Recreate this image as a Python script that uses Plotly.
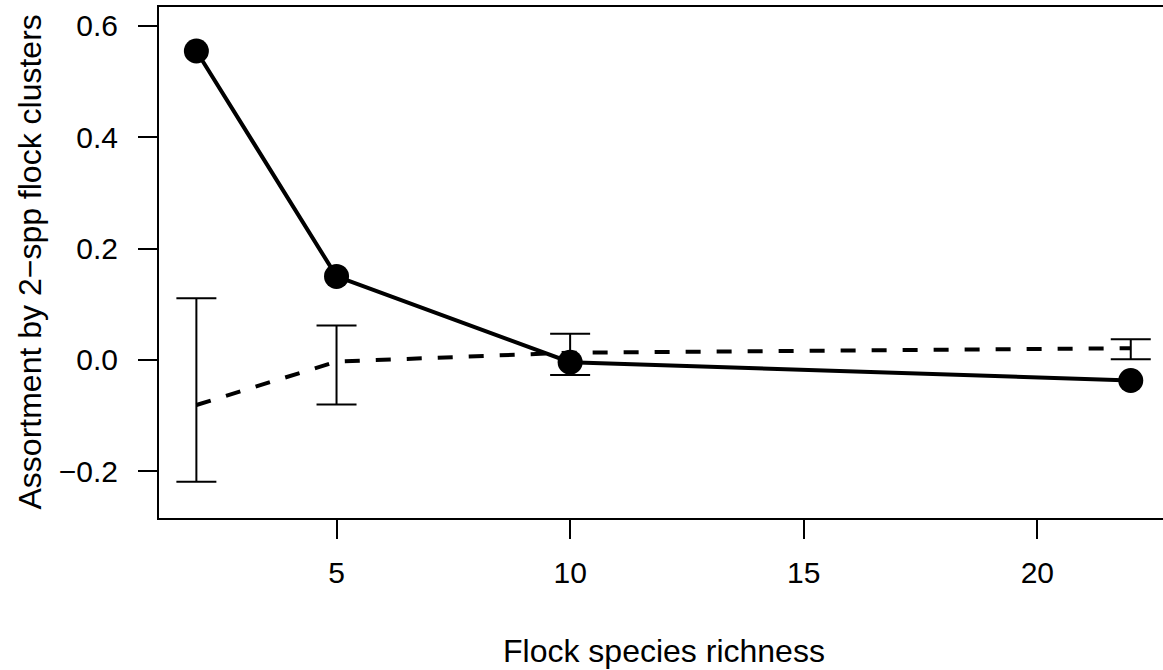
import plotly.graph_objects as go

# Data
richness = [2, 5, 10, 22]
observed = [0.555, 0.150, -0.004, -0.037]
null_mean = [-0.081, -0.003, 0.013, 0.021]
null_lo = [-0.219, -0.080, -0.027, 0.001]
null_hi = [0.111, 0.062, 0.047, 0.037]

x_ticks = [5, 10, 15, 20]
x_ticktext = ["5", "10", "15", "20"]
y_ticks = [-0.2, 0.0, 0.2, 0.4, 0.6]
y_ticktext = ["\u22120.2", "0.0", "0.2", "0.4", "0.6"]

FONT = "Liberation Sans, Arial, Helvetica, sans-serif"
FS = 30
FT = 32

fig = go.Figure()

err_plus = [h - m for h, m in zip(null_hi, null_mean)]
err_minus = [m - l for m, l in zip(null_mean, null_lo)]

fig.add_trace(go.Scatter(
    x=richness, y=null_mean, mode="lines",
    line=dict(color="black", width=4, dash="15px,16px"),
    error_y=dict(type="data", symmetric=False, array=err_plus, arrayminus=err_minus,
                 color="black", thickness=2, width=20),
    showlegend=False, hoverinfo="skip",
))

fig.add_trace(go.Scatter(
    x=richness, y=observed, mode="lines+markers",
    line=dict(color="black", width=4),
    marker=dict(color="black", size=25),
    showlegend=False,
))

fig.update_layout(
    width=1163, height=670,
    margin=dict(l=159, r=0, t=7, b=152, pad=0),
    plot_bgcolor="white", paper_bgcolor="white",
    font=dict(family=FONT, size=FS, color="black"),
    xaxis=dict(range=[1.2, 22.69], showgrid=False, zeroline=False,
               showline=True, linecolor="black", linewidth=2, mirror=True,
               ticks="outside", ticklen=19, tickwidth=2, tickcolor="black",
               tickvals=x_ticks, ticktext=x_ticktext,
               tickfont=dict(family=FONT, size=FS, color="black"),
               ticklabelstandoff=8),
    yaxis=dict(range=[-0.284, 0.634], showgrid=False, zeroline=False,
               showline=True, linecolor="black", linewidth=2, mirror=False,
               ticks="outside", ticklen=19, tickwidth=2, tickcolor="black",
               tickvals=y_ticks, ticktext=y_ticktext,
               tickfont=dict(family=FONT, size=FS, color="black"),
               ticklabelstandoff=14),
    annotations=[
        dict(text="Flock species richness", xref="x", yref="paper",
             x=12.0, y=0, xanchor="center", yanchor="top", yshift=-113,
             showarrow=False, font=dict(family=FONT, size=FT, color="black")),
        dict(text="Assortment by 2\u2212spp flock clusters", xref="paper", yref="y",
             x=0, y=0.175, xanchor="center", yanchor="middle", xshift=-130,
             textangle=-90, showarrow=False,
             font=dict(family=FONT, size=FT, color="black")),
    ],
)

fig.write_html("out.html")
